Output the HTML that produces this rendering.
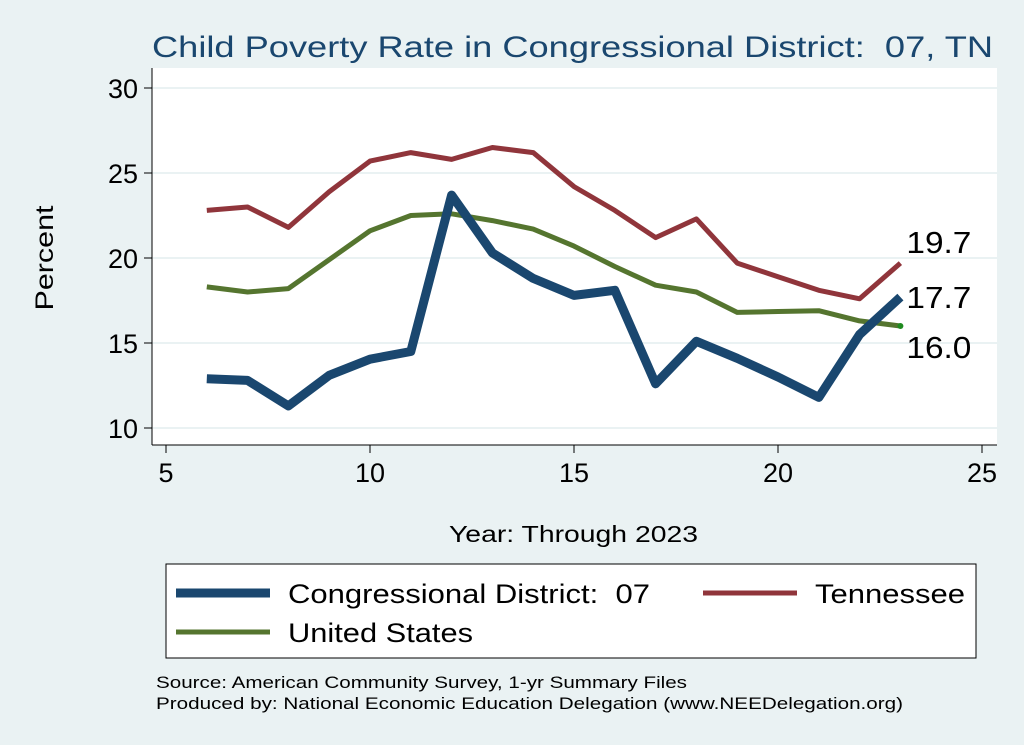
<!DOCTYPE html>
<html><head><meta charset="utf-8"><style>
body{margin:0;background:#eaf2f3;}
svg{display:block;font-family:"Liberation Sans",Arial,sans-serif;}
</style></head><body>
<svg id="chart" width="1024" height="745">
<rect x="0" y="0" width="1024" height="745" fill="#eaf2f3"/>
<rect x="152" y="68" width="845" height="377" fill="#ffffff"/>
<text x="152" y="57" font-size="30" fill="#1a476f" textLength="841" lengthAdjust="spacingAndGlyphs">Child Poverty Rate in Congressional District:&#160; 07, TN</text>
<text transform="translate(53,258) rotate(-90)" text-anchor="middle" font-size="25" fill="#000" textLength="105" lengthAdjust="spacingAndGlyphs">Percent</text>
<text x="449" y="542" font-size="23" fill="#000" textLength="249" lengthAdjust="spacingAndGlyphs">Year: Through 2023</text>
<g id="grid"></g><g id="axes"></g><g id="series"></g>
<g>
<rect x="166" y="564" width="810" height="94" fill="#fff" stroke="#000" stroke-width="1"/>
<line x1="176" y1="593" x2="270" y2="593" stroke="#1a476f" stroke-width="9"/>
<text x="288" y="603" font-size="27" textLength="362" lengthAdjust="spacingAndGlyphs">Congressional District:&#160; 07</text>
<line x1="703" y1="593" x2="797" y2="593" stroke="#90353b" stroke-width="5"/>
<text x="815" y="603" font-size="27" textLength="150" lengthAdjust="spacingAndGlyphs">Tennessee</text>
<line x1="176" y1="632" x2="270" y2="632" stroke="#55752f" stroke-width="5"/>
<text x="288" y="642" font-size="27" textLength="185" lengthAdjust="spacingAndGlyphs">United States</text>
</g>
<text x="156" y="688" font-size="17" textLength="531" lengthAdjust="spacingAndGlyphs">Source: American Community Survey, 1-yr Summary Files</text>
<text x="156" y="709" font-size="17" textLength="747" lengthAdjust="spacingAndGlyphs">Produced by: National Economic Education Delegation (www.NEEDelegation.org)</text>
</svg>
<script>
const years=[6,7,8,9,10,11,12,13,14,15,16,17,18,19,20,21,22,23];
const district=[12.9,12.8,11.3,13.1,14.05,14.5,23.7,20.3,18.8,17.8,18.1,12.6,15.1,14.1,13.0,11.8,15.5,17.7];
const tennessee=[22.8,23.0,21.8,23.9,25.7,26.2,25.8,26.5,26.2,24.2,22.8,21.2,22.3,19.7,18.9,18.1,17.6,19.7];
const unitedStates=[18.3,18.0,18.2,19.9,21.6,22.5,22.6,22.2,21.7,20.7,19.5,18.4,18.0,16.8,16.85,16.9,16.3,16.0];
const xTicks=[5,10,15,20,25];
const yTicks=[10,15,20,25,30];
const NS='http://www.w3.org/2000/svg';
const xs=v=>166+(v-5)*40.8;
const ys=v=>428-(v-10)*17;
function mk(tag,attrs,parent){const e=document.createElementNS(NS,tag);for(const k in attrs)e.setAttribute(k,attrs[k]);parent.appendChild(e);return e;}
const grid=document.getElementById('grid'),axes=document.getElementById('axes'),ser=document.getElementById('series');
mk('line',{x1:152,y1:68,x2:152,y2:445,stroke:'#000','stroke-width':1},axes);
mk('line',{x1:152,y1:445,x2:997,y2:445,stroke:'#000','stroke-width':1},axes);
yTicks.forEach(t=>{
 const g=mk('line',{x1:152,y1:ys(t),x2:997,y2:ys(t),stroke:'#eaf2f3','stroke-width':2},grid);
 
 
 mk('line',{x1:144,y1:ys(t),x2:152,y2:ys(t),stroke:'#000'},axes);
 const tx=mk('text',{x:138,y:ys(t)+10,'text-anchor':'end','font-size':27},axes);
 tx.textContent=t;
 
 
});
xTicks.forEach(t=>{
 mk('line',{x1:xs(t),y1:445,x2:xs(t),y2:453,stroke:'#000'},axes);
 const tx=mk('text',{x:xs(t),y:482,'text-anchor':'middle','font-size':27},axes);
 tx.textContent=t;
 
 
});
function line(vals,color,w,name){
 const p=mk('polyline',{points:years.map((y,i)=>xs(y)+','+ys(vals[i])).join(' '),fill:'none',stroke:color,'stroke-width':w,'stroke-linejoin':'round'},ser);
 
 
}
line(unitedStates,'#55752f',5,'us-line');
line(tennessee,'#90353b',5,'tennessee-line');
line(district,'#1a476f',9,'district-line');
const last=years.length-1;
mk('circle',{cx:xs(years[last]),cy:ys(unitedStates[last]),r:3,fill:'#1f8a1f'},ser);
[[tennessee,-10,'label-tennessee'],[district,11,'label-district'],[unitedStates,32,'label-us']].forEach(([v,dy,n])=>{
 const t=mk('text',{x:xs(years[last])+6,y:ys(v[last])+dy,'font-size':31,textLength:65,lengthAdjust:'spacingAndGlyphs'},ser);
 t.textContent=v[last].toFixed(1);
 
 
});
</script>
</body></html>
